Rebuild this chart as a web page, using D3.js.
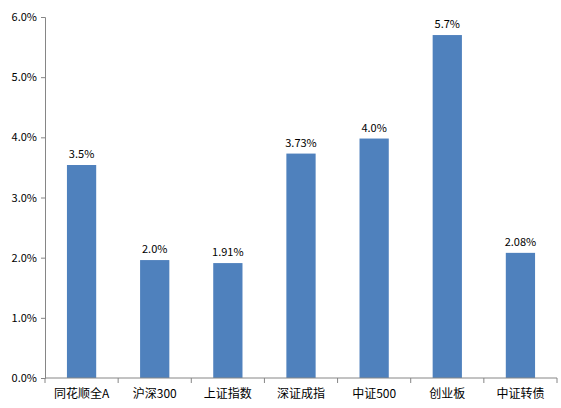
<!DOCTYPE html>
<html><head><meta charset="utf-8">
<script src="https://cdn.jsdelivr.net/npm/d3@7"></script>
<style>body{margin:0;background:#fff}text{font-family:"Noto Sans CJK SC","Liberation Sans",sans-serif}</style>
</head><body><svg width="561" height="408"></svg>
<script>
const categories = ["同花顺全A", "沪深300", "上证指数", "深证成指", "中证500", "创业板", "中证转债"];
const values = [3.54, 1.96, 1.91, 3.73, 3.98, 5.70, 2.08];
const labels = ["3.5%", "2.0%", "1.91%", "3.73%", "4.0%", "5.7%", "2.08%"];
const yTicks = [0, 1, 2, 3, 4, 5, 6];

const svg = d3.select("svg");
const m = {left: 45, right: 4, top: 17, bottom: 30};
const W = 561, H = 408;

const x = d3.scaleBand().domain(categories).range([m.left, W - m.right]).paddingInner(0.6).paddingOuter(0.3);
const y = d3.scaleLinear().domain([0, 6]).range([H - m.bottom, m.top]);

// bars
svg.selectAll("rect.bar").data(values).join("rect")
  .attr("x", (d, i) => x(categories[i]))
  .attr("y", d => y(d))
  .attr("width", x.bandwidth())
  .attr("height", d => y(0) - y(d))
  .attr("fill", "#4f81bd");

// value labels
svg.selectAll("text.lbl").data(values).join("text")
  .attr("x", (d, i) => x(categories[i]) + x.bandwidth() / 2)
  .attr("y", d => y(d) - 7)
  .attr("text-anchor", "middle")
  .attr("font-size", 11)
  .text((d, i) => labels[i]);

// y axis
const yAxis = svg.append("g").attr("transform", `translate(${m.left},0)`)
  .call(d3.axisLeft(y).tickValues(yTicks).tickSize(4).tickFormat(d => d.toFixed(1) + "%"));
yAxis.selectAll("text").attr("font-size", 11).attr("fill", "#000").attr("dx", -1);
yAxis.selectAll("line,path").attr("stroke", "#868686");

// x axis with ticks between categories
const xAxis = svg.append("g").attr("transform", `translate(0,${y(0)})`);
xAxis.append("line").attr("x1", m.left).attr("x2", W - m.right).attr("stroke", "#868686");
const step = x.step();
const bounds = d3.range(categories.length + 1).map(i => m.left + (W - m.right - m.left) * i / categories.length);
xAxis.selectAll("line.t").data(bounds).join("line")
  .attr("x1", d => d).attr("x2", d => d).attr("y1", 0).attr("y2", 5).attr("stroke", "#868686");
xAxis.selectAll("text").data(categories).join("text")
  .attr("x", d => x(d) + x.bandwidth() / 2)
  .attr("y", 20)
  .attr("text-anchor", "middle")
  .attr("font-size", 12)
  .text(d => d);
</script></body></html>
